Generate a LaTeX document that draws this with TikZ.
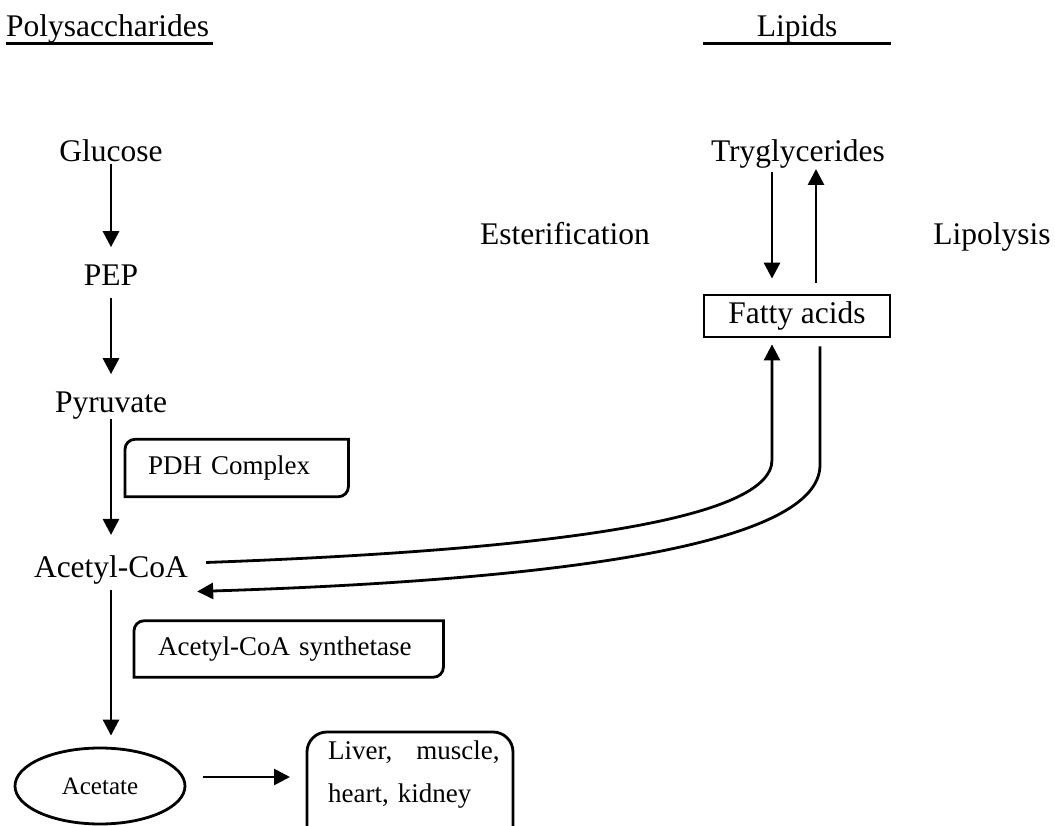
\documentclass[tikz,border=0pt]{standalone}
\usepackage{fontspec}
\setmainfont{Liberation Serif}
\usetikzlibrary{arrows.meta,shapes.geometric}

\begin{document}
\begin{tikzpicture}[
    x=1pt, y=1pt,
    metab/.style={inner sep=0pt, font=\fontsize{31.5}{36}\selectfont},
    enzyme/.style={inner ysep=0pt, inner xsep=23pt, minimum height=57pt, align=left, font=\fontsize{27}{32}\selectfont},
    flow/.style={-{Triangle[length=16pt,width=16pt]}, line width=2.8pt},
    box/.style={line width=2.8pt}
]
    \useasboundingbox (0,0) rectangle (1055,-826);
    \clip (0,0) rectangle (1055,-826);

    % Headings
    \node[metab, anchor=base west] (poly) at (6,-37) {Polysaccharides};
    \draw[line width=3pt] (poly.south west) -- ([xshift=4pt]poly.south east);
    \node[metab, anchor=base] (lip) at (797,-37) {Lipids};
    \draw[line width=3pt] ([xshift=-94pt]lip.south) -- ([xshift=94pt]lip.south);

    % Polysaccharide side
    \node[metab, anchor=base] (glc) at (111,-162) {Glucose};
    \node[metab, anchor=base] (pep) at (111,-286) {PEP};
    \node[metab, anchor=base] (pyr) at (111,-412) {Pyruvate};
    \node[metab, anchor=base] (acoa) at (111,-577) {Acetyl-CoA};
    \node[draw, ellipse, box, minimum width=170pt, minimum height=76pt, inner sep=0pt,
          font=\fontsize{25}{30}\selectfont] (acet) at (100,-786) {Acetate};
    \draw[flow, shorten <=1pt, shorten >=18pt] (glc.south) -- (pep.north);
    \draw[flow, shorten <=12pt, shorten >=17pt] (pep.south) -- (pyr.north);
    \draw[flow, shorten >=20pt] (pyr.south) -- (acoa.north);
    \draw[flow, shorten <=6pt, shorten >=11pt] (acoa.south) -- (acoa.south |- acet.north);

    % Enzymes
    \node[enzyme, anchor=west, text width=177pt] (pdh) at (125,-468) {PDH Complex};
    \draw[box] ([yshift=10pt]pdh.south west) -- ([yshift=-10pt]pdh.north west)
        arc[start angle=180, end angle=90, radius=10pt] -- (pdh.north east)
        -- ([yshift=10pt]pdh.south east) arc[start angle=0, end angle=-90, radius=10pt]
        -- (pdh.south west) -- cycle;
    \node[enzyme, anchor=west, text width=261pt, inner xsep=24pt, minimum height=56pt] (acs) at (134,-649) {Acetyl-CoA synthetase};
    \draw[box] ([yshift=10pt]acs.south west) -- ([yshift=-10pt]acs.north west)
        arc[start angle=180, end angle=90, radius=10pt] -- (acs.north east)
        -- ([yshift=10pt]acs.south east) arc[start angle=0, end angle=-90, radius=10pt]
        -- (acs.south west) -- cycle;

    % Tissues
    \node[anchor=north west, inner sep=0pt, text width=185pt, align=left,
          font=\fontsize{27}{43}\selectfont] (liver) at (328,-741) {Liver,\hspace{24pt}muscle,\\heart, kidney};
    \draw[box, rounded corners=20pt] ([xshift=-21pt,yshift=9pt]liver.north west) rectangle ++(206,-130);
    \draw[flow, shorten <=17pt, shorten >=38pt] ([yshift=9pt]acet.east) -- ([yshift=9pt]acet.east -| liver.west);

    % Lipid side
    \node[metab, anchor=base] (tg) at (798,-162) {Tryglycerides};
    \node[metab, anchor=base] (ester) at (565,-245) {Esterification};
    \node[metab, anchor=base] (lipo) at (992,-245) {Lipolysis};
    \node[draw, box, metab, minimum width=186pt, minimum height=42pt] (fa) at (797,-316) {Fatty acids};
    \draw[flow, shorten <=3pt, shorten >=15pt] ([xshift=-26pt]tg.south) -- ([xshift=-25pt]fa.north);
    \draw[flow, shorten <=11pt] ([xshift=19pt]fa.north) -- ([xshift=18pt]tg.south);

    % Acetyl-CoA <-> fatty acids
    \draw[flow, shorten >=6pt] ([xshift=18pt,yshift=7pt]acoa.east)
        .. controls (550,-550) and (772,-520) .. (772,-460) -- ([xshift=-25pt]fa.south);
    \draw[flow] ([xshift=23pt,yshift=-8pt]fa.south) -- (820,-465)
        .. controls (820,-545) and (560,-580) .. ([xshift=9pt,yshift=-22pt]acoa.east);
\end{tikzpicture}
\end{document}
